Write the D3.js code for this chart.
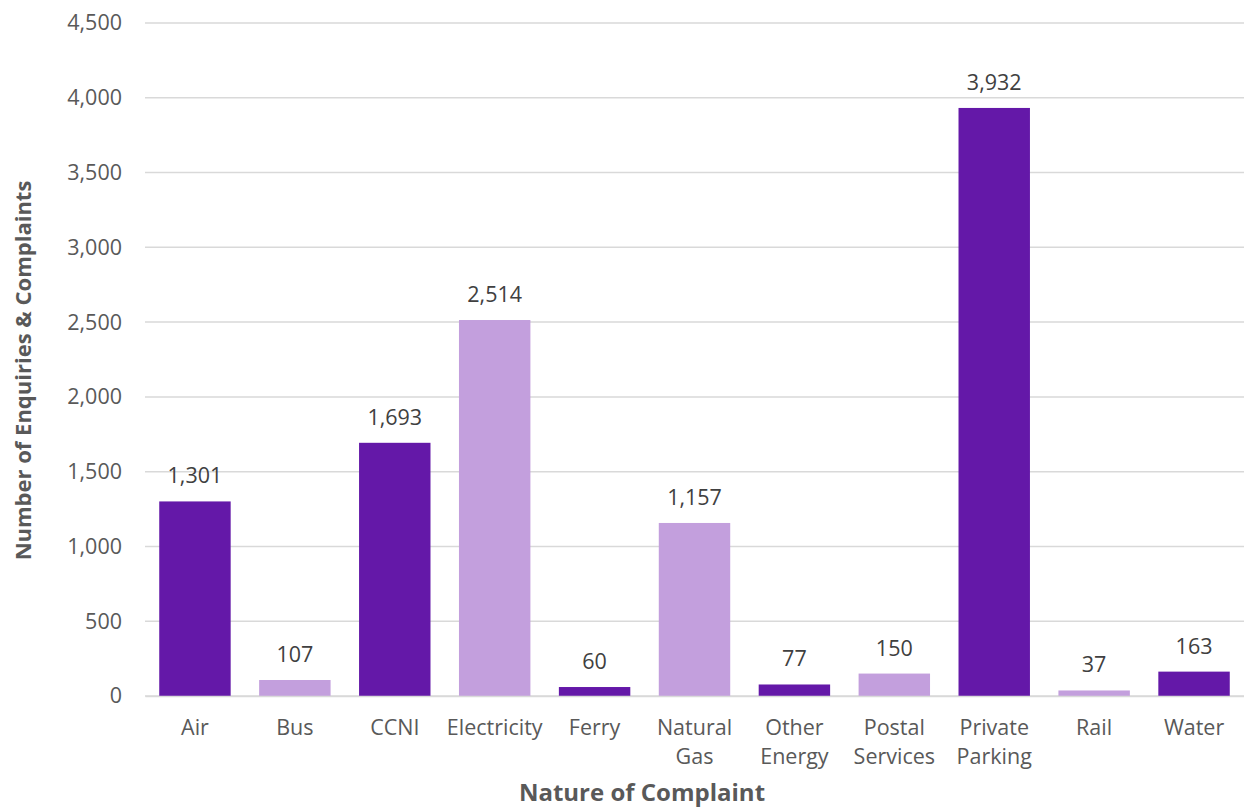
<!DOCTYPE html>
<html><head><meta charset="utf-8">
<script src="https://cdn.jsdelivr.net/npm/d3@7"></script>
<style>body{margin:0;background:#fff;} svg{display:block;font-family:"Open Sans",sans-serif;}</style>
</head><body>
<svg id="c" width="1244" height="809"></svg>
<script>
const categories = ["Air","Bus","CCNI","Electricity","Ferry","Natural Gas","Other Energy","Postal Services","Private Parking","Rail","Water"];
const values = [1301,107,1693,2514,60,1157,77,150,3932,37,163];
const shades = ["dark","light","dark","light","dark","light","dark","light","dark","light","dark"];
const yTicks = [0,500,1000,1500,2000,2500,3000,3500,4000,4500];

const colorMap = {dark:"#6418A8", light:"#C39FDD"};
const svg = d3.select("#c");
const m = {l:145, r:1244, t:23, b:696};
const x = d3.scaleBand().domain(categories).range([m.l, m.r]).paddingInner(0.285).paddingOuter(0.1425);
const y = d3.scaleLinear().domain([0,4500]).range([m.b, m.t]);

// gridlines
svg.append("g").selectAll("line").data(yTicks).join("line")
  .attr("x1", m.l).attr("x2", m.r)
  .attr("y1", d=>y(d)).attr("y2", d=>y(d))
  .attr("stroke", "#d9d9d9").attr("stroke-width", 1.5);

// y axis labels
const yAxis = d3.axisLeft(y).tickValues(yTicks).tickFormat(d3.format(",")).tickSize(0).tickPadding(23);
const yg = svg.append("g").attr("transform", `translate(${m.l},0)`).call(yAxis);
yg.select(".domain").remove();
yg.selectAll("text").attr("fill", "#595959").style("font-size", "21.5px").style("font-family","Open Sans");

// bars
svg.append("g").selectAll("rect").data(categories).join("rect")
  .attr("x", d=>x(d)).attr("width", x.bandwidth())
  .attr("y", (d,i)=>y(values[i])).attr("height", (d,i)=>y(0)-y(values[i]))
  .attr("fill", (d,i)=>colorMap[shades[i]]);

// value labels
svg.append("g").selectAll("text").data(categories).join("text")
  .attr("x", d=>x(d)+x.bandwidth()/2)
  .attr("y", (d,i)=>y(values[i]) - 18)
  .attr("text-anchor", "middle").attr("fill", "#404040")
  .style("font-size", "21.5px")
  .text((d,i)=>d3.format(",")(values[i]));

// x axis
const xAxis = d3.axisBottom(x).tickSize(0).tickPadding(0);
const xg = svg.append("g").attr("transform", `translate(0,${m.b})`).call(xAxis);
xg.select(".domain").attr("stroke", "#d9d9d9").attr("stroke-width", 1.5);
xg.selectAll("text").remove();
xg.selectAll(".tick").each(function(d){
  const words = d.split(" ");
  const t = d3.select(this).append("text").attr("text-anchor","middle").attr("fill","#595959")
    .style("font-size","21.5px").style("font-family","Open Sans");
  words.forEach((w,i)=>t.append("tspan").attr("x",0).attr("y", 39 + i*29).text(w));
});

// axis titles
svg.append("text").attr("x", 642).attr("y", 801).attr("text-anchor","middle")
  .attr("fill","#595959").style("font-size","24px").style("font-weight","bold").text("Nature of Complaint");
svg.append("text").attr("transform", `translate(31,${(m.t+m.b)/2+11}) rotate(-90)`).attr("text-anchor","middle")
  .attr("fill","#595959").style("font-size","22px").style("font-weight","bold").text("Number of Enquiries & Complaints");
</script>
</body></html>
